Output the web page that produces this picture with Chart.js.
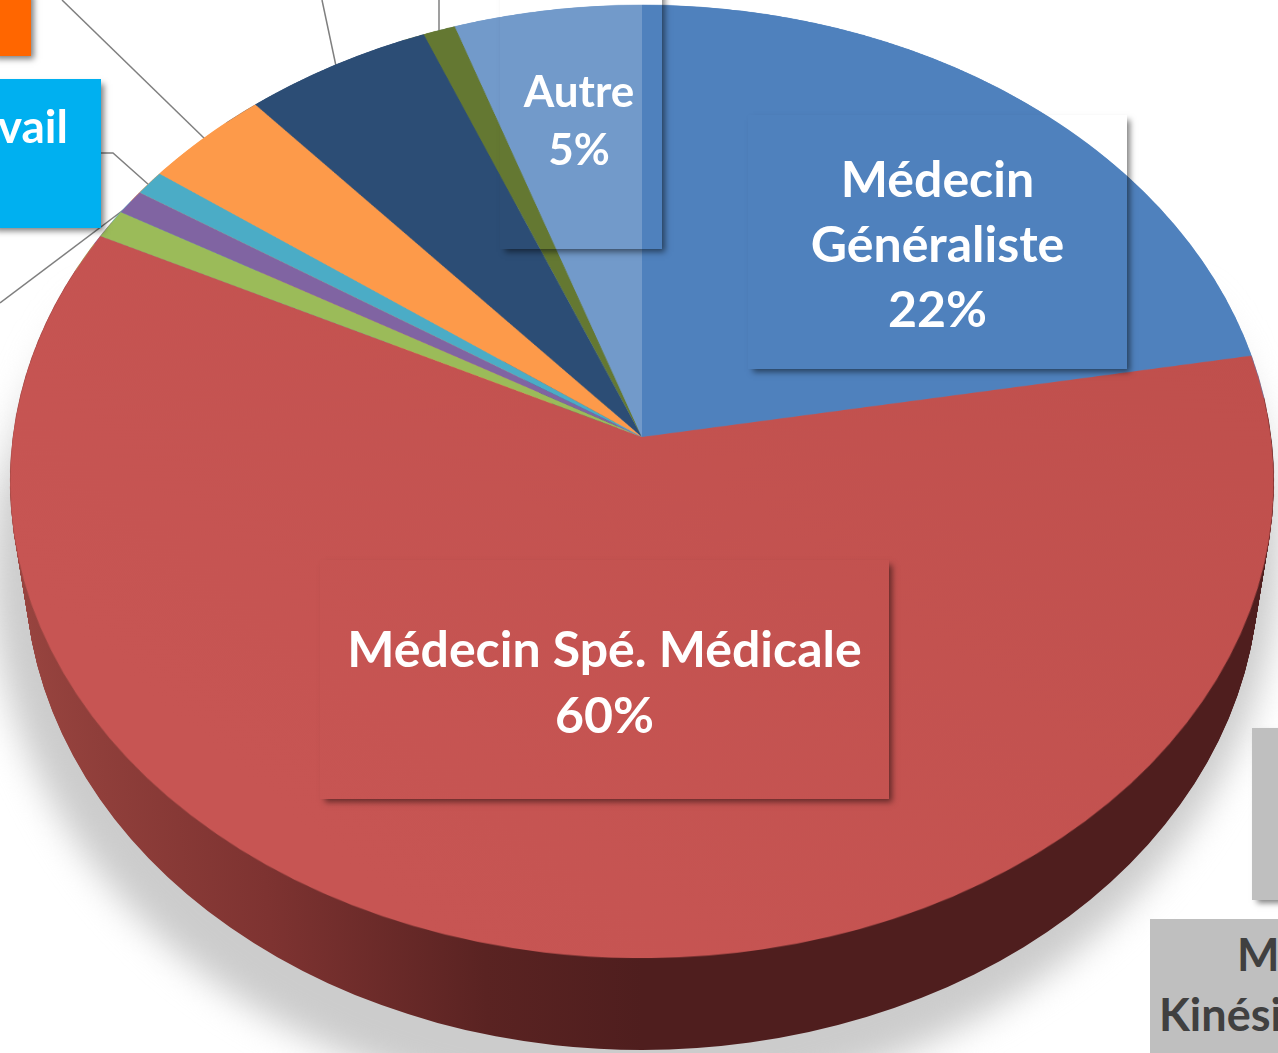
<!DOCTYPE html>
<html lang="fr">
<head>
<meta charset="utf-8">
<title>Répartition</title>
<script src="https://cdn.jsdelivr.net/npm/chart.js@4"></script>
<style>
  html, body { margin: 0; padding: 0; background: #fff; }
  #page { position: relative; width: 1278px; height: 1053px; overflow: hidden; font-family: Lato, sans-serif; font-weight: 700; }
  #page > * { position: absolute; }
  #shadowWrap { left: 0; top: 0; width: 1278px; height: 1053px; overflow: hidden; -webkit-mask-image: linear-gradient(transparent 260px, #000 500px); mask-image: linear-gradient(transparent 260px, #000 500px); }
  #groundShadow { position: absolute; left: -9px; top: 8px; width: 1290px; height: 1100px; border-radius: 50%; background: #cccccc; filter: blur(17px); transform: rotate(-4deg); }
  #leaders { left: 0; top: 0; }
  #wall { left: 0; top: 0; }
  #top { left: 13px; top: -192px; transform: perspective(4445px) rotateX(41.3deg); }
  .box { box-sizing: border-box; text-align: center; color: #fff; box-shadow: 4px 4px 6px -1px rgba(0, 0, 0, .5); white-space: nowrap; }
  .big { font-size: 50px; line-height: 65px; }
  .small { font-size: 44px; line-height: 58px; }
</style>
</head>
<body>
<div id="page">
  <div id="shadowWrap"><div id="groundShadow"></div></div>
  <svg id="leaders" width="1278" height="1053" fill="none" stroke="#7f7f7f" stroke-width="1.5">
    <path d="M62 0L205 139"/>
    <path d="M101 153H113L149 185"/>
    <path d="M0 303L130 205"/>
    <path d="M322 0L336 66"/>
    <path d="M439 0V31"/>
  </svg>
  <canvas id="wall" width="1278" height="1053"></canvas>
  <canvas id="top" width="1258" height="1258"></canvas>

  <div class="box big" style="left:748px;top:115px;width:379px;height:254px;padding-top:31px">Médecin<br>Généraliste<br>22%</div>
  <div class="box small" style="left:500px;top:-20px;width:162px;height:269px;padding-top:81px"><span style="position:absolute;left:0;width:158px;text-align:center">Autre<br>5%</span></div>
  <div class="box big" style="left:320px;top:560px;width:569px;height:239px;padding-top:55px;line-height:66px">Médecin Spé. Médicale<br>60%</div>

  <div class="box" style="left:-10px;top:-10px;width:41px;height:66px;background:#ff6600"></div>
  <div class="box big" style="left:-10px;top:79px;width:111px;height:149px;background:#00b0f0;text-align:right;padding:14px 33px 0 0;font-size:46px">vail</div>
  <div class="box" style="left:1252px;top:728px;width:40px;height:172px;background:#bfbfbf"></div>
  <div class="box big" style="left:1150px;top:919px;width:140px;height:150px;background:#bfbfbf;color:#404040;text-align:left;font-size:45px;line-height:60px;box-shadow:none;padding-top:5px"><span style="margin-left:87px">M</span><br><span style="margin-left:9px">Kinési</span></div>
</div>

<script>
// Values, clockwise from 12 o'clock
const categories = [
  "Médecin Généraliste",
  "Médecin Spé. Médicale",
  "Catégorie A",
  "Catégorie B",
  "Médecin du travail",
  "Catégorie C",
  "Catégorie D",
  "Catégorie E",
  "Autre",
];
const shares = [22.2, 60.1, 1, 0.85, 0.85, 3.57, 5.28, 0.9, 5.25];
const sliceColors = ["#4f81bd", "#c4524f", "#9bbb59", "#8064a2", "#4bacc6", "#fd9a4a", "#2c4d75", "#647832", "#729aca"];

const commonOptions = {
  responsive: false,
  animation: false,
  events: [],
  plugins: { legend: { display: false }, tooltip: { enabled: false } },
};

// Top face: flat pie, tilted by the css transform on the canvas
const topCanvas = document.getElementById("top");
// The red slice gets a little lighter towards the lower left
const redTop = topCanvas.getContext("2d").createLinearGradient(1100, 300, 300, 1100);
redTop.addColorStop(0, "#bf4f4c");
redTop.addColorStop(1, "#c75553");

new Chart(topCanvas, {
  type: "pie",
  data: {
    labels: categories,
    datasets: [{ data: shares, backgroundColor: sliceColors.map((c, i) => (i === 1 ? redTop : c)), borderWidth: 0 }],
  },
  options: commonOptions,
});

// Side wall: same pie repeated from the top ellipse down to the bottom ellipse
const topEllipse = { cx: 642, cy: 481, rx: 632, ry: 476 };
const bottomEllipse = { cx: 642, cy: 570, rx: 617, ry: 480 };
const wallSteps = 90;

const wallPlugin = {
  id: "wallLayers",
  beforeDatasetsDraw(chart) {
    const ctx = chart.ctx;
    const arcs = chart.getDatasetMeta(0).data;
    const arc0 = arcs[0];
    for (let i = wallSteps; i >= 0; i--) {
      const t = i / wallSteps;
      const rx = topEllipse.rx + (bottomEllipse.rx - topEllipse.rx) * t;
      const ry = topEllipse.ry + (bottomEllipse.ry - topEllipse.ry) * t;
      const cy = topEllipse.cy + (bottomEllipse.cy - topEllipse.cy) * t;
      const sx = rx / arc0.outerRadius;
      const sy = ry / arc0.outerRadius;
      ctx.save();
      ctx.setTransform(sx, 0, 0, sy, topEllipse.cx - sx * arc0.x, cy - sy * arc0.y);
      arcs.forEach((a) => {
        ctx.fillStyle = a.options.backgroundColor;
        a.draw(ctx);
      });
      ctx.restore();
    }
    return false;
  },
};

const wallCanvas = document.getElementById("wall");
const wallCtx = wallCanvas.getContext("2d");
// Pie is 526 radius around x=639 in this canvas, the gradient runs across it
const redWall = wallCtx.createLinearGradient(113, 0, 639, 0);
redWall.addColorStop(0, "#98443f");
redWall.addColorStop(0.4, "#7e3331");
redWall.addColorStop(0.75, "#5a2322");
redWall.addColorStop(1, "#4f1e1e");
const wallColors = sliceColors.map((c, i) => (i === 1 ? redWall : c));

new Chart(wallCanvas, {
  type: "pie",
  data: {
    labels: categories,
    datasets: [{ data: shares, backgroundColor: wallColors, borderWidth: 0 }],
  },
  options: commonOptions,
  plugins: [wallPlugin],
});
</script>
</body>
</html>
